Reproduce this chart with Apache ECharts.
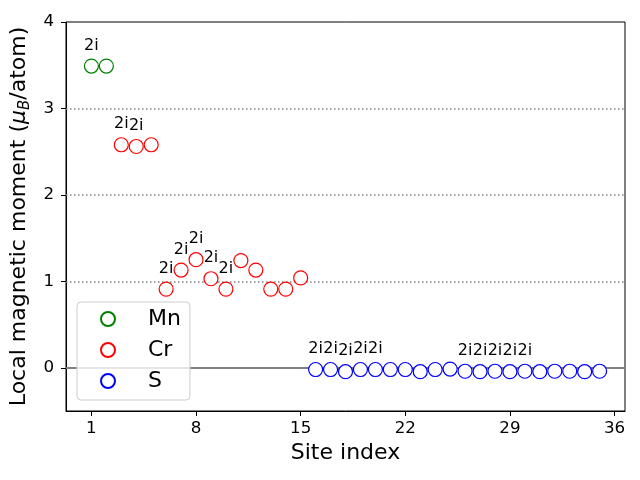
<!DOCTYPE html>
<html>
<head>
<meta charset="utf-8">
<script src="https://cdn.jsdelivr.net/npm/echarts@6/dist/echarts.min.js"></script>
<style>html,body{margin:0;padding:0;background:#fff}#c{width:640px;height:480px}</style>
</head>
<body>
<div id="c"></div>
<script>
const mnSites = [1, 2];
const mnValues = [3.49, 3.49];
const crSites = [3, 4, 5, 6, 7, 8, 9, 10, 11, 12, 13, 14, 15];
const crValues = [2.58, 2.56, 2.58, 0.91, 1.13, 1.25, 1.03, 0.91, 1.24, 1.13, 0.91, 0.91, 1.04];
const sSites = [16, 17, 18, 19, 20, 21, 22, 23, 24, 25, 26, 27, 28, 29, 30, 31, 32, 33, 34, 35];
const sValues = [-0.02, -0.02, -0.045, -0.02, -0.02, -0.02, -0.02, -0.045, -0.02, -0.015, -0.04, -0.045, -0.04, -0.045, -0.04, -0.045, -0.04, -0.04, -0.045, -0.04];
const labeledSites = [1, 3, 4, 6, 7, 8, 9, 10, 16, 17, 18, 19, 20, 26, 27, 28, 29, 30];
const siteLabel = '2i';
const xTicks = [1, 8, 15, 22, 29, 36];
const yTicks = [0, 1, 2, 3, 4];
const dottedLevels = [1, 2, 3];
const zeroLevel = 0;

const FONT = 'DejaVu Sans';

function buildData(sites, values) {
  return sites.map((s, i) => {
    const item = { value: [s, values[i]] };
    if (labeledSites.indexOf(s) >= 0) {
      item.label = { show: true };
    }
    return item;
  });
}

function makeSeries(name, color, sites, values) {
  return {
    name: name,
    type: 'scatter',
    symbol: 'circle',
    symbolSize: 14,
    z: 3,
    itemStyle: { color: '#ffffff', borderColor: color, borderWidth: 1.2, opacity: 1 },
    label: {
      show: false,
      formatter: siteLabel,
      position: 'top',
      distance: 5,
      color: '#000',
      fontFamily: FONT,
      fontSize: 16
    },
    labelLayout: { hideOverlap: false },
    emphasis: { disabled: true },
    data: buildData(sites, values)
  };
}

const lineSeries = {
  name: 'levels',
  type: 'scatter',
  data: [],
  silent: true,
  z: 1,
  markLine: {
    silent: true,
    z: 1,
    symbol: ['none', 'none'],
    label: { show: false },
    animation: false,
    data: dottedLevels.map(v => ({ yAxis: v, lineStyle: { color: '#808080', width: 1.5, type: [1.5, 2.5] } }))
      .concat([{ yAxis: zeroLevel, lineStyle: { color: '#808080', width: 2, type: 'solid' } }])
  }
};

const chart = echarts.init(document.getElementById('c'), null, { renderer: 'canvas' });
chart.setOption({
  animation: false,
  backgroundColor: '#ffffff',
  textStyle: { fontFamily: FONT },
  grid: { left: 66, right: 15, top: 22, bottom: 69, show: true, borderColor: '#000', borderWidth: 1, backgroundColor: 'transparent' },
  legend: {
    orient: 'vertical',
    left: 77,
    top: 302,
    data: ['Mn', 'Cr', 'S'],
    icon: 'circle',
    itemWidth: 14,
    itemHeight: 14,
    itemGap: 9,
    padding: [6, 9, 8, 23],
    borderColor: '#cccccc',
    borderWidth: 1,
    borderRadius: 4,
    backgroundColor: 'rgba(255,255,255,0.8)',
    formatter: function (n) { return '{t|' + n + '}'; },
    textStyle: {
      fontFamily: FONT,
      fontSize: 22,
      color: '#000',
      rich: { t: { fontFamily: FONT, fontSize: 22, lineHeight: 22, color: '#000', padding: [0, 0, 0, 28] } }
    }
  },
  xAxis: {
    type: 'value',
    min: -0.7,
    max: 36.7,
    name: 'Site index',
    nameLocation: 'middle',
    nameGap: 30,
    nameTextStyle: { fontFamily: FONT, fontSize: 22, color: '#000' },
    axisLine: { show: true, onZero: false, lineStyle: { color: '#000', width: 1 } },
    axisTick: { show: true, inside: false, length: 5, customValues: xTicks, lineStyle: { color: '#000' } },
    axisLabel: { customValues: xTicks, fontFamily: FONT, fontSize: 16.7, color: '#000', margin: 9 },
    splitLine: { show: false }
  },
  yAxis: {
    type: 'value',
    min: -0.5,
    max: 4,
    name: 'Local magnetic moment ({mu|μ}{sub|B}{n|/atom)}',
    nameLocation: 'middle',
    nameRotate: 90,
    nameGap: 27,
    nameTextStyle: {
      fontFamily: FONT, fontSize: 22, color: '#000',
      rich: {
        mu: { fontFamily: FONT, fontSize: 22, fontStyle: 'italic', color: '#000', lineHeight: 26 },
        sub: { fontFamily: FONT, fontSize: 15, fontStyle: 'italic', color: '#000', verticalAlign: 'bottom', lineHeight: 15 },
        n: { fontFamily: FONT, fontSize: 22, color: '#000', lineHeight: 26 }
      }
    },
    axisLine: { show: true, onZero: false, lineStyle: { color: '#000', width: 1 } },
    axisTick: { show: true, inside: false, length: 5, customValues: yTicks, lineStyle: { color: '#000' } },
    axisLabel: { customValues: yTicks, fontFamily: FONT, fontSize: 16.7, color: '#000', margin: 12 },
    splitLine: { show: false }
  },
  series: [
    lineSeries,
    makeSeries('Mn', '#008000', mnSites, mnValues),
    makeSeries('Cr', '#ff0000', crSites, crValues),
    makeSeries('S', '#0000ff', sSites, sValues)
  ]
});
</script>
</body>
</html>
